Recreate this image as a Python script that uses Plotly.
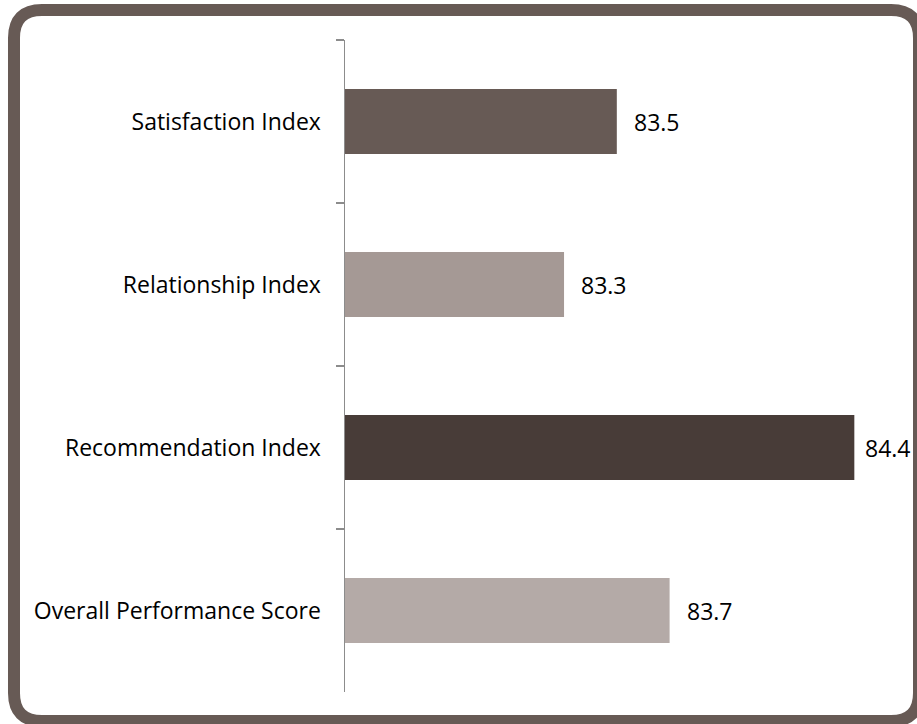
import plotly.graph_objects as go

categories = ["Satisfaction Index", "Relationship Index", "Recommendation Index", "Overall Performance Score"]
values = [83.5, 83.3, 84.4, 83.7]
bar_colors = ["#675a55", "#a59995", "#483c38", "#b4aaa7"]

W, H = 917, 724
ML, MR, MT, MB = 345, 31, 40, 32
PW, PH = W - ML - MR, H - MT - MB

def px(x):
    return (x - ML) / PW

def py(y):
    return (H - MB - y) / PH

# rounded frame path (pixel geometry -> paper coords)
L, R, T, B, r = 14, 919, 10, 721, 28
pts = [
    ("M", [(L + r, T)]),
    ("L", [(R - r, T)]),
    ("Q", [(R, T), (R, T + r)]),
    ("L", [(R, B - r)]),
    ("Q", [(R, B), (R - r, B)]),
    ("L", [(L + r, B)]),
    ("Q", [(L, B), (L, B - r)]),
    ("L", [(L, T + r)]),
    ("Q", [(L, T), (L + r, T)]),
]
path = " ".join(
    cmd + " " + " ".join(f"{px(x):.5f},{py(y):.5f}" for x, y in p) for cmd, p in pts
) + " Z"

fig = go.Figure(
    go.Bar(
        x=values,
        y=categories,
        orientation="h",
        marker=dict(color=bar_colors, line=dict(width=0)),
        width=0.4,
        hoverinfo="skip",
    )
)

vmax = max(values)
for c, v in zip(categories, values):
    fig.add_annotation(
        x=v, y=c, xref="x", yref="y", text=f"{v:.1f}", showarrow=False,
        xanchor="left", xshift=9 if v == vmax else 15,
        font=dict(family="Open Sans", size=23, color="#000000"),
    )

fig.add_shape(type="path", path=path, xref="paper", yref="paper",
              line=dict(color="#675a55", width=12), fillcolor="rgba(0,0,0,0)", layer="above")

fig.update_layout(
    width=W, height=H,
    margin=dict(l=ML, r=MR, t=MT, b=MB),
    paper_bgcolor="#ffffff", plot_bgcolor="#ffffff",
    showlegend=False,
    font=dict(family="Open Sans", size=23, color="#000000"),
    xaxis=dict(range=[82.47, 84.52], visible=False, showgrid=False, zeroline=False),
    yaxis=dict(
        autorange="reversed", type="category",
        showline=True, linecolor="#8c8c8c", linewidth=1.5,
        ticks="outside", tickson="boundaries", ticklen=8, tickcolor="#8c8c8c", tickwidth=1.5,
        showgrid=False, ticklabelstandoff=18,
        tickfont=dict(family="Open Sans", size=23, color="#000000"),
    ),
)

fig.write_html(
    "out.html",
    config={"displayModeBar": False, "staticPlot": True},
    post_script="document.body.style.margin='0';document.body.style.overflow='hidden';",
)
